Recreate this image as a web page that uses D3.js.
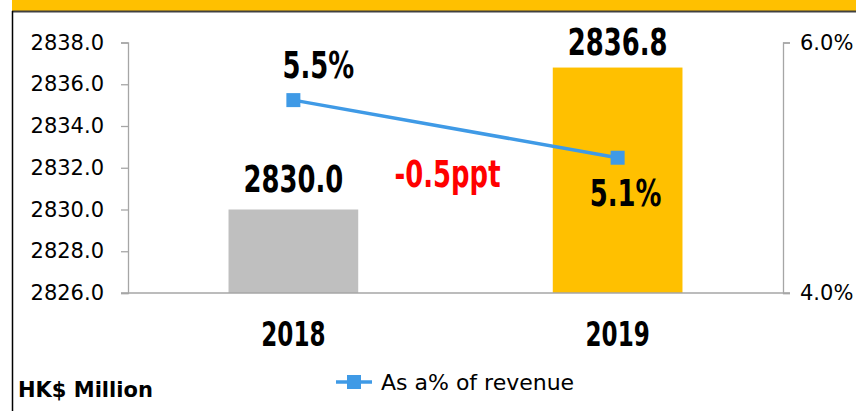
<!DOCTYPE html>
<html>
<head>
<meta charset="utf-8">
<script src="https://cdn.jsdelivr.net/npm/d3@7"></script>
<style>
    body { margin: 0; background: #fff; }
    svg { display: block; }
    .tick-label { font-family: "DejaVu Sans", sans-serif; font-size: 21px; fill: #000; }
    .big-label { font-family: "DejaVu Sans", sans-serif; font-weight: bold; font-size: 37px; fill: #000; }
    .axis-line { stroke: #a6a6a6; stroke-width: 1.3; fill: none; }
</style>
</head>
<body>
<svg width="856" height="411"></svg>
<script>
// Chart data
var years = ["2018", "2019"];
var amounts = [2830.0, 2836.8];          // HK$ Million (bars)
var pctRevenue = [5.54, 5.08];           // As a% of revenue (line)
var pctLabels = ["5.5%", "5.1%"];
var changeLabel = "-0.5ppt";
var leftTicks = [2826, 2828, 2830, 2832, 2834, 2836, 2838];
var rightTicks = [4, 6];
var barColors = ["#bfbfbf", "#ffc000"];

// SVG settings
var svg = d3.select("svg"),
    plotLeft = 128,
    plotRight = 783,
    plotTop = 42.5,
    plotBottom = 293,
    squeeze = 0.7;   // narrow the bold labels (no condensed font installed)

var xScale = d3.scaleBand().domain(years).range([plotLeft, plotRight]).paddingInner(0.6).paddingOuter(0.31),
    yLeft = d3.scaleLinear().domain([2826, 2838]).range([plotBottom, plotTop]),
    yRight = d3.scaleLinear().domain([4, 6]).range([plotBottom, plotTop]);

function midX(i) { return xScale(years[i]) + xScale.bandwidth() / 2; }

// bold narrow label at (x, y)
function bigLabel(x, y, txt, size, color) {
    return svg.append("text")
        .attr("class", "big-label")
        .attr("text-anchor", "middle")
        .attr("transform", "translate(" + x + "," + y + ") scale(" + squeeze + ",1)")
        .style("font-size", (size || 37) + "px")
        .style("fill", color || "#000")
        .text(txt);
}

// Frame: yellow band on top, dark rule, left border
svg.append("rect").attr("x", 12).attr("y", 0).attr("width", 844).attr("height", 11).attr("fill", "#ffc000");
svg.append("line").attr("x1", 12).attr("x2", 856).attr("y1", 11.5).attr("y2", 11.5).attr("stroke", "#404040").attr("stroke-width", 2);
svg.append("line").attr("x1", 12.5).attr("x2", 12.5).attr("y1", 11).attr("y2", 411).attr("stroke", "#000").attr("stroke-width", 1.5);

// Bars
svg.selectAll(".bar")
    .data(years)
    .enter()
    .append("rect")
    .attr("x", function (d) { return xScale(d); })
    .attr("y", function (d, i) { return yLeft(amounts[i]); })
    .attr("width", xScale.bandwidth())
    .attr("height", function (d, i) { return plotBottom - yLeft(amounts[i]); })
    .attr("fill", function (d, i) { return barColors[i]; });

// Left axis
var gl = svg.append("g").attr("transform", "translate(" + plotLeft + ",0)")
    .call(d3.axisLeft(yLeft).tickValues(leftTicks).tickSize(7).tickPadding(17).tickFormat(d3.format(".1f")));
gl.select(".domain").attr("class", "axis-line");
gl.selectAll(".tick line").attr("stroke", "#a6a6a6").attr("stroke-width", 1.3);
gl.selectAll(".tick text").attr("class", "tick-label");
gl.attr("font-size", null).attr("font-family", null);

// Right axis
var gr = svg.append("g").attr("transform", "translate(" + plotRight + ",0)")
    .call(d3.axisRight(yRight).tickValues(rightTicks).tickSize(7).tickPadding(10).tickFormat(function (d) { return d.toFixed(1) + "%"; }));
gr.select(".domain").attr("class", "axis-line");
gr.selectAll(".tick line").attr("stroke", "#a6a6a6").attr("stroke-width", 1.3);
gr.selectAll(".tick text").attr("class", "tick-label");
gr.attr("font-size", null).attr("font-family", null);

// Baseline
svg.append("line").attr("class", "axis-line")
    .attr("x1", plotLeft - 7).attr("x2", plotRight + 7)
    .attr("y1", yLeft(2826)).attr("y2", yLeft(2826));

// Category labels
years.forEach(function (d, i) { bigLabel(midX(i), 346, d, 33); });

// Bar value labels
var amtOffsets = [-18, -13];
amounts.forEach(function (v, i) { bigLabel(midX(i), yLeft(v) + amtOffsets[i], d3.format(".1f")(v)); });

// Percent line
svg.append("path")
    .datum(pctRevenue)
    .attr("fill", "none")
    .attr("stroke", "#3f9ae6")
    .attr("stroke-width", 3.5)
    .attr("d", d3.line()
        .x(function (d, i) { return midX(i); })
        .y(function (d) { return yRight(d); }));

svg.selectAll(".marker")
    .data(pctRevenue)
    .enter()
    .append("rect")
    .attr("x", function (d, i) { return midX(i) - 7; })
    .attr("y", function (d) { return yRight(d) - 7; })
    .attr("width", 14)
    .attr("height", 14)
    .attr("fill", "#3f9ae6");

// Percent labels
var pctDx = [25, 8],
    pctDy = [-22, 48];
pctRevenue.forEach(function (v, i) { bigLabel(midX(i) + pctDx[i], yRight(v) + pctDy[i], pctLabels[i]); });

// Change label
bigLabel((plotLeft + plotRight) / 2 - 8, 187, changeLabel, 37, "#ff0000");

// Unit label
svg.append("text")
    .attr("x", 18)
    .attr("y", 397)
    .attr("font-family", "'DejaVu Sans', sans-serif")
    .attr("font-weight", "bold")
    .attr("font-size", 21)
    .text("HK$ Million");

// Legend
svg.append("line")
    .attr("x1", 336).attr("x2", 372).attr("y1", 382).attr("y2", 382)
    .attr("stroke", "#3f9ae6").attr("stroke-width", 3.5);
svg.append("rect")
    .attr("x", 347).attr("y", 375).attr("width", 14).attr("height", 14)
    .attr("fill", "#3f9ae6");
svg.append("text")
    .attr("x", 381)
    .attr("y", 390)
    .attr("font-family", "'DejaVu Sans', sans-serif")
    .attr("font-size", 22)
    .text("As a% of revenue");
</script>
</body>
</html>
